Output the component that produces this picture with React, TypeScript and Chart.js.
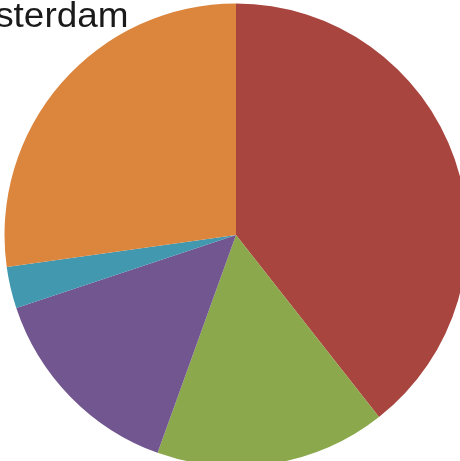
import React, { useEffect, useRef } from "react";
import { Chart, registerables } from "chart.js";

Chart.register(...registerables);

const titleText = "Amsterdam";
const categories = ["A", "B", "C", "D", "E"];
const values = [39.4, 16.1, 14.4, 2.9, 27.2];
const colors = ["#A9453F", "#8BA94C", "#725690", "#4198AF", "#DC853D"];

const titlePlugin = {
  id: "cornerTitle",
  afterDraw(chart: any) {
    const ctx = chart.ctx;
    ctx.save();
    ctx.translate(128.5, 26.5);
    ctx.scale(1.07, 1);
    ctx.font = '34.5px "Liberation Sans", Arial, sans-serif';
    ctx.fillStyle = "#1a1a1a";
    ctx.textAlign = "right";
    ctx.textBaseline = "alphabetic";
    ctx.fillText(titleText, 0, 0);
    ctx.restore();
  },
};

export default function App() {
  const ref = useRef<HTMLCanvasElement | null>(null);
  useEffect(() => {
    if (!ref.current) return;
    const chart = new Chart(ref.current, {
      type: "pie",
      data: {
        labels: categories,
        datasets: [
          {
            data: values,
            backgroundColor: colors,
            borderWidth: 0,
          },
        ],
      },
      options: {
        responsive: false,
        animation: false,
        layout: { padding: { left: 4.5, top: 3.5, right: 12.5, bottom: 13.5 } },
        plugins: {
          legend: { display: false },
          tooltip: { enabled: false },
          title: { display: false },
        },
      },
      plugins: [titlePlugin],
    });
    return () => chart.destroy();
  }, []);
  return (
    <div
      style={{
        position: "fixed",
        left: 0,
        top: 0,
        width: 460,
        height: 461,
        overflow: "hidden",
        background: "#fff",
      }}
    >
      <canvas ref={ref} width={480} height={480} style={{ display: "block" }} />
    </div>
  );
}
